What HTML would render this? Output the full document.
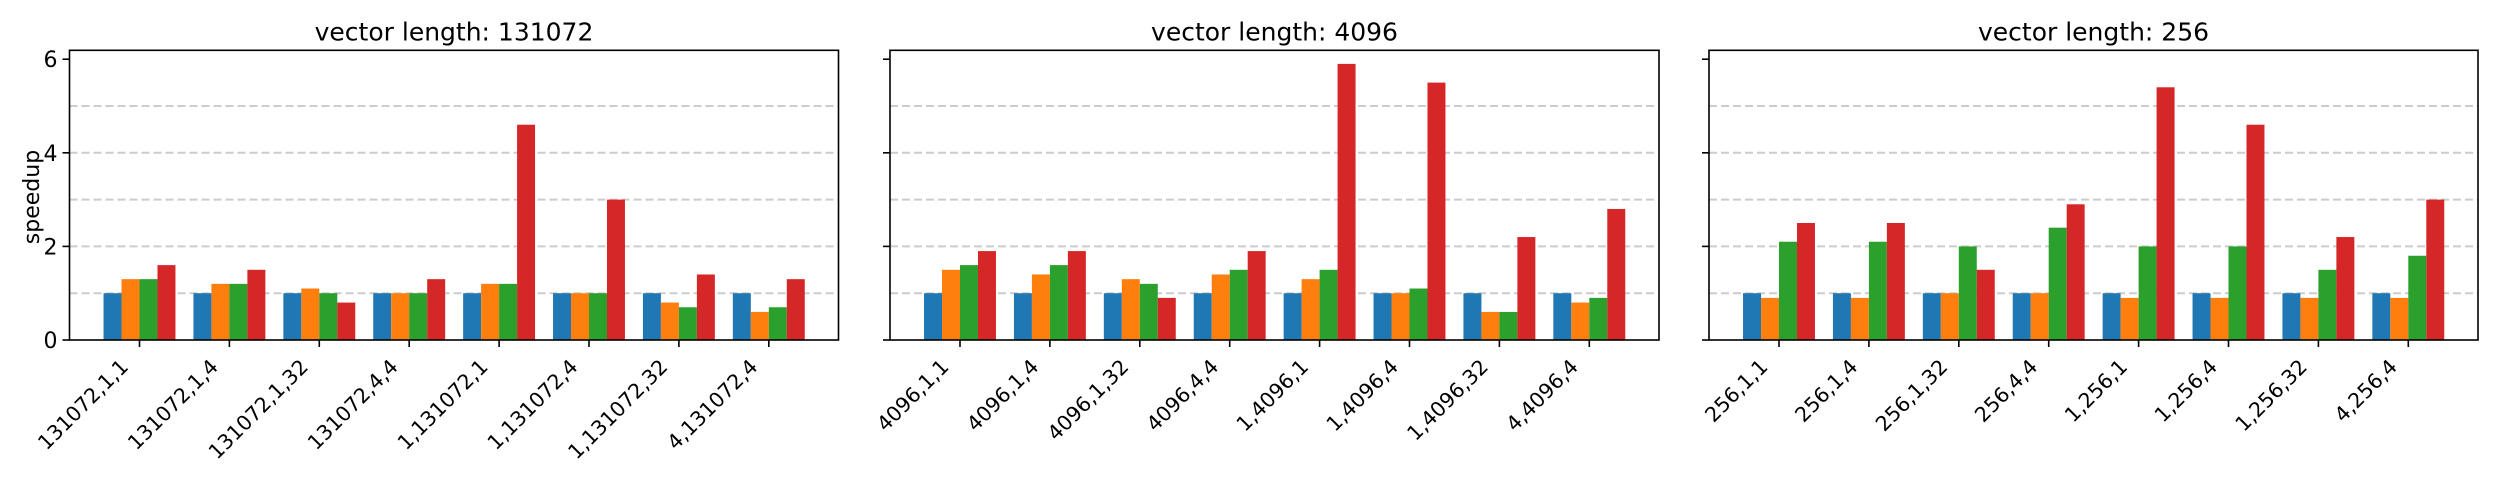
<!DOCTYPE html>
<html><head><meta charset="utf-8"><style>html,body{margin:0;padding:0;background:#fff}svg{display:block}text{font-family:"DejaVu Sans","Liberation Sans",sans-serif;fill:#000}</style></head>
<body>
<svg id="chart" width="2500" height="480" viewBox="0 0 2500 480" xmlns="http://www.w3.org/2000/svg"></svg>
<script>
const titles = ["vector length: 131072", "vector length: 4096", "vector length: 256"];
const cats1 = ["131072,1,1","131072,1,4","131072,1,32","131072,4,4","1,131072,1","1,131072,4","1,131072,32","4,131072,4"];
const cats2 = ["4096,1,1","4096,1,4","4096,1,32","4096,4,4","1,4096,1","1,4096,4","1,4096,32","4,4096,4"];
const cats3 = ["256,1,1","256,1,4","256,1,32","256,4,4","1,256,1","1,256,4","1,256,32","4,256,4"];
const p1blue = [1,1,1,1,1,1,1,1];
const p1orange = [1.3,1.2,1.1,1.0,1.2,1.0,0.8,0.6];
const p1green = [1.3,1.2,1.0,1.0,1.2,1.0,0.7,0.7];
const p1red = [1.6,1.5,0.8,1.3,4.6,3.0,1.4,1.3];
const p2blue = [1,1,1,1,1,1,1,1];
const p2orange = [1.5,1.4,1.3,1.4,1.3,1.0,0.6,0.8];
const p2green = [1.6,1.6,1.2,1.5,1.5,1.1,0.6,0.9];
const p2red = [1.9,1.9,0.9,1.9,5.9,5.5,2.2,2.8];
const p3blue = [1,1,1,1,1,1,1,1];
const p3orange = [0.9,0.9,1.0,1.0,0.9,0.9,0.9,0.9];
const p3green = [2.1,2.1,2.0,2.4,2.0,2.0,1.5,1.8];
const p3red = [2.5,2.5,1.5,2.9,5.4,4.6,2.2,3.0];
const yTicks = [0,2,4,6];
const gridVals = [1,2,3,4,5];

const panels = [
  {L:69.5, cats:cats1, series:[p1blue,p1orange,p1green,p1red]},
  {L:890, cats:cats2, series:[p2blue,p2orange,p2green,p2red]},
  {L:1709, cats:cats3, series:[p3blue,p3orange,p3green,p3red]}
];
const colors = ["#1f77b4","#ff7f0e","#2ca02c","#d62728"];
const W = 769, TOP = 50.3, ZERO = 340, UNIT = 46.8, MARG = 70, STEP = 89.9, BW = 17.98;
const NS = "http://www.w3.org/2000/svg";
const svg = document.getElementById('chart');
function mk(tag, attrs, parent){const e=document.createElementNS(NS,tag);for(const k in attrs)e.setAttribute(k,attrs[k]);(parent||svg).appendChild(e);return e;}
function yS(v){return ZERO - v*UNIT;}

panels.forEach((p,pi)=>{
  const g = mk('g',{});
  
  
  const xS = i => p.L + MARG + i*STEP;
  gridVals.forEach(v=>{
    const l = mk('line',{x1:p.L,x2:p.L+W,y1:yS(v),y2:yS(v),stroke:'#cccccc','stroke-width':2,'stroke-dasharray':'8,4'},g);
    
    
  });
  p.series.forEach((s,si)=>{
    s.forEach((v,i)=>{
      const x = xS(i) + (si-2)*BW;
      const r = mk('rect',{x:x,y:yS(v),width:BW,height:ZERO-yS(v),fill:colors[si]},g);
      
      
    });
  });
  const fr = mk('rect',{x:p.L,y:TOP,width:W,height:ZERO-TOP,fill:'none',stroke:'#000','stroke-width':1.6},g);
  
  
  yTicks.forEach(v=>{
    mk('line',{x1:p.L-7,x2:p.L,y1:yS(v),y2:yS(v),stroke:'#000','stroke-width':1.6},g);
    if(pi===0){
      const t = mk('text',{x:p.L-12,y:yS(v)+8,'text-anchor':'end','font-size':22},g);
      t.textContent = v;
      
      
    }
  });
  p.cats.forEach((c,i)=>{
    const x = xS(i);
    mk('line',{x1:x,x2:x,y1:ZERO,y2:ZERO+7,stroke:'#000','stroke-width':1.6},g);
    const t = mk('text',{transform:'translate('+(x-10)+','+(ZERO+28)+') rotate(-45)','text-anchor':'end','font-size':20.5},g);
    t.textContent = c;
    
    
  });
  const tt = mk('text',{x:p.L+W/2,y:40.5,'text-anchor':'middle','font-size':25},g);
  tt.textContent = titles[pi];
  
  
});
const yl = mk('text',{transform:'translate(39,197) rotate(-90)','text-anchor':'middle','font-size':22});
yl.textContent = 'speedup';


</script>
</body></html>
